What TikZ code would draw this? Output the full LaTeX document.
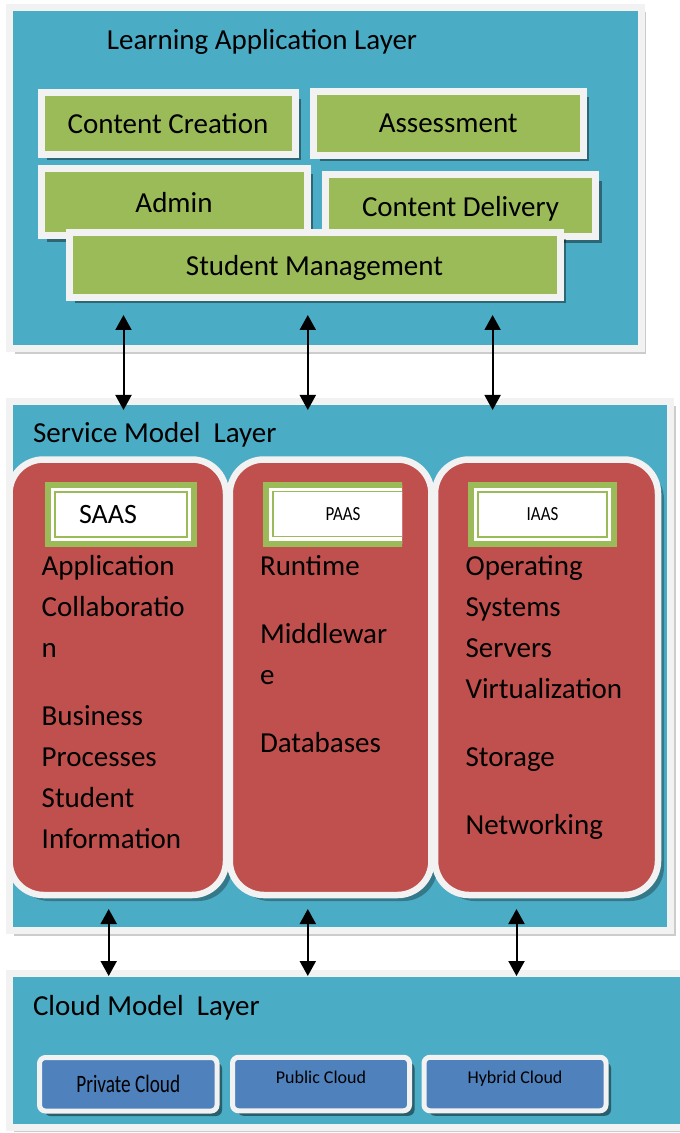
\documentclass[tikz,border=0pt]{standalone}
\usepackage{fontspec}
\setmainfont{Carlito}
\usepackage{graphicx}
\usetikzlibrary{arrows.meta,shadows}
\definecolor{layerblue}{HTML}{4BACC6}
\definecolor{modgreen}{HTML}{9BBB59}
\definecolor{colred}{HTML}{C0504D}
\definecolor{cloudblue}{HTML}{4F81BD}
\definecolor{rim}{HTML}{F2F2F2}
\tikzset{layerbox/.style={rectangle, draw=rim, line width=3.5pt, fill=layerblue, drop shadow={shadow xshift=2.5pt, shadow yshift=-2.5pt, fill=black, opacity=0.2}},
  module/.style={rectangle, draw=rim, line width=3.5pt, fill=modgreen, inner sep=0pt, text depth=0pt, font=\fontsize{14.5}{17}\selectfont, drop shadow={shadow xshift=3pt, shadow yshift=-3pt, fill=black, opacity=0.4}},
  stack/.style={rectangle, rounded corners=17pt, draw=rim, line width=3.25pt, fill=colred, drop shadow={shadow xshift=3pt, shadow yshift=-3pt, fill=black, opacity=0.3}},
  tagframe/.style={rectangle, draw=modgreen, line width=3pt, fill=white, inner sep=0pt, minimum height=29.5pt},
  tag/.style={rectangle, draw=modgreen, line width=0.75pt, fill=white, inner sep=0pt, minimum height=22.5pt},
  items/.style={anchor=north west, align=left, inner sep=0pt, font=\fontsize{14.5}{20.5}\selectfont},
  layertitle/.style={anchor=base west, inner sep=0pt, font=\fontsize{14.5}{17}\selectfont},
  cloudbox/.style={rectangle, rounded corners=3pt, draw=rim, line width=2.5pt, fill=cloudblue, inner sep=0pt, minimum height=26.75pt, drop shadow={shadow xshift=2.5pt, shadow yshift=-2.5pt, fill=black, opacity=0.45}},
  toptext/.style={text height=6.3pt, text depth=7.3pt},
  link/.style={{Triangle[length=7.5pt,width=8pt]}-{Triangle[length=7.5pt,width=8pt]}, line width=1pt}}

\begin{document}
\begin{tikzpicture}[x=0.5pt,y=-0.5pt]
    \useasboundingbox (0,0) rectangle (679,1133);
    % layers
    \node[layerbox, minimum width=315.75pt, minimum height=170.9pt] (L1) at (325.5,178.1) {};
    \node[layerbox, minimum width=330.8pt, minimum height=264.8pt] (L2) at (339.9,666) {};
    \node[layerbox, minimum width=345.5pt, minimum height=76.85pt] (L3) at (354.5,1050.2) {};
    \node[layertitle] (T1) at (106.5,49.3) {Learning Application Layer};
    \node[layertitle] (T2) at (32.6,442.7) {Service Model\ \ Layer};
    \node[layertitle] (T3) at (32.6,1015) {Cloud Model\ \ Layer};
    % learning application modules
    \node[module, minimum width=127pt, minimum height=30.75pt] (A1) at (168,123.75) {Content Creation};
    \node[module, minimum width=134.75pt, minimum height=32pt] (A2) at (448.25,123.5) {Assessment};
    \node[module, minimum width=133pt, minimum height=33.75pt] (A3) at (174,202.25) {Admin};
    \node[module, minimum width=135pt, minimum height=31pt] (A4) at (460.5,206) {Content Delivery};
    \node[module, minimum width=245.5pt, minimum height=32.25pt] (A5) at (314.5,265.25) {Student Management};
    % service models
    \node[stack, minimum width=108.25pt, minimum height=217.75pt] (S1) at (117.75,677.25) {};
    \node[stack, minimum width=100.85pt, minimum height=217.75pt] (S2) at (330.6,677.25) {};
    \node[stack, minimum width=111.5pt, minimum height=217.75pt] (S3) at (546.5,677.25) {};
    \node[tagframe, minimum width=73pt] (F1) at (121,514.5) {};
    \node[tag, minimum width=66pt, font=\fontsize{14}{16}\selectfont] (M1) at (121,514.5) {SAAS\hspace*{13pt}};
    \begin{scope}
        \clip (0,0) rectangle (402,1133);
        \node[tagframe, minimum width=77pt] (F2) at (343,514) {};
        \node[tag, minimum width=70pt, font=\fontsize{10}{12}\selectfont] (M2) at (343,514) {\scalebox{0.85}[1]{PAAS}};
    \end{scope}
    \node[tagframe, minimum width=71.5pt] (F3) at (542.5,514.5) {};
    \node[tag, minimum width=64.5pt, font=\fontsize{10}{12}\selectfont] (M3) at (542.5,514.5) {\scalebox{0.85}[1]{IAAS}};
    \node[items] (I1) at (41.3,555) {Application\\Collaboratio\\n\\[13.5pt]Business\\Processes\\Student\\Information};
    \node[items] (I2) at (259.6,555) {Runtime\\[13.5pt]Middlewar\\e\\[13.5pt]Databases};
    \node[items] (I3) at (465.2,555) {Operating\\Systems\\Servers\\Virtualization\\[13.5pt]Storage\\[13.5pt]Networking};
    % cloud models
    \node[cloudbox, minimum width=88.75pt, font=\fontsize{12.5}{15}\selectfont] (C1) at (128.25,1084.25) {\scalebox{0.77}[1]{Private Cloud}};
    \node[cloudbox, toptext, minimum width=88.5pt, font=\fontsize{9}{11}\selectfont] (C2) at (321,1084) {Public Cloud};
    \node[cloudbox, toptext, minimum width=91pt, font=\fontsize{9}{11}\selectfont] (C3) at (515,1084) {Hybrid Cloud};
    % links between layers
    \coordinate (P1) at (123.5,315);
    \coordinate (Q1) at (123.5,410);
    \coordinate (P2) at (307.8,315);
    \coordinate (Q2) at (307.8,410);
    \coordinate (P3) at (492.6,315);
    \coordinate (Q3) at (492.6,410);
    \coordinate (P4) at (108.7,909);
    \coordinate (Q4) at (108.7,976);
    \coordinate (P5) at (307.8,909);
    \coordinate (Q5) at (307.8,976);
    \coordinate (P6) at (516.5,909);
    \coordinate (Q6) at (516.5,976);
    \draw[link] (P1) -- (Q1);
    \draw[link] (P2) -- (Q2);
    \draw[link] (P3) -- (Q3);
    \draw[link] (P4) -- (Q4);
    \draw[link] (P5) -- (Q5);
    \draw[link] (P6) -- (Q6);
\end{tikzpicture}
\end{document}
